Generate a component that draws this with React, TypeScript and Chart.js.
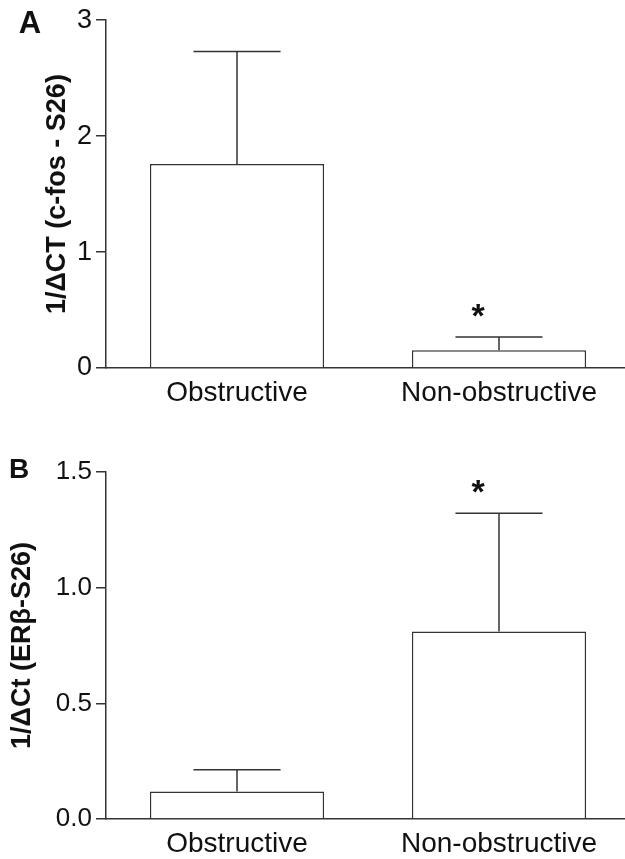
import React, { useEffect, useRef } from "react";
import { Chart, registerables } from "chart.js";

Chart.register(...registerables);

const categories = ["Obstructive", "Non-obstructive"];

const cfosMeans = [1.76, 0.153];
const cfosErrors = [0.97, 0.114];
const cfosSignificant = [false, true];
const cfosTicks = [0, 1, 2, 3];

const erbMeans = [0.119, 0.811];
const erbErrors = [0.094, 0.511];
const erbSignificant = [false, true];
const erbTicks = [0, 0.5, 1.0, 1.5];

const FONT = "'Liberation Sans', Arial, Helvetica, sans-serif";
const LINE = "#333333";
const TEXT = "#111111";

type PanelProps = {
  letter: string;
  letterX: number;
  letterY: number;
  letterSize: number;
  means: number[];
  errors: number[];
  sig: boolean[];
  ticks: number[];
  decimals: number;
  title: string;
  titlePad: number;
  top: number;
  height: number;
  areaTop: number;
  xHeight: number;
  tickSize: number;
};

function Panel(p: PanelProps) {
  const ref = useRef<HTMLCanvasElement | null>(null);
  useEffect(() => {
    if (!ref.current) return;
    const overlay = {
      id: "overlay" + p.letter,
      afterDatasetsDraw(chart: any) {
        const ctx = chart.ctx;
        const meta = chart.getDatasetMeta(0);
        const y = chart.scales.y;
        ctx.save();
        ctx.strokeStyle = LINE;
        ctx.lineWidth = 1.5;
        meta.data.forEach((el: any, i: number) => {
          const top = y.getPixelForValue(p.means[i] + p.errors[i]);
          const cap = el.width * 0.5;
          ctx.beginPath();
          ctx.moveTo(el.x, el.y);
          ctx.lineTo(el.x, top);
          ctx.moveTo(el.x - cap / 2, top);
          ctx.lineTo(el.x + cap / 2, top);
          ctx.stroke();
          if (p.sig[i]) {
            ctx.fillStyle = TEXT;
            ctx.font = `bold 34px ${FONT}`;
            ctx.textAlign = "center";
            ctx.textBaseline = "alphabetic";
            ctx.fillText("*", el.x - 21, top - 29 + 19);
          }
        });
        ctx.fillStyle = TEXT;
        ctx.font = `bold ${p.letterSize}px ${FONT}`;
        ctx.textAlign = "center";
        ctx.textBaseline = "alphabetic";
        ctx.fillText(p.letter, p.letterX, p.letterY);
        ctx.restore();
      },
    };
    const chart = new Chart(ref.current, {
      type: "bar",
      data: {
        labels: categories,
        datasets: [
          {
            data: p.means,
            backgroundColor: "#ffffff",
            borderColor: LINE,
            borderWidth: 1.5,
            borderSkipped: "start",
            barPercentage: 0.665,
            categoryPercentage: 1,
          },
        ],
      },
      options: {
        responsive: false,
        animation: false,
        events: [],
        layout: { padding: { top: p.areaTop, left: 0, right: 10, bottom: 0 } },
        plugins: { legend: { display: false }, tooltip: { enabled: false } },
        scales: {
          x: {
            grid: { display: false, drawTicks: false },
            border: { display: true, color: LINE, width: 1.5 },
            ticks: { font: { family: FONT, size: 28 }, color: TEXT, padding: 8, maxRotation: 0 },
            afterFit: (s: any) => {
              s.height = p.xHeight;
            },
          },
          y: {
            min: p.ticks[0],
            max: p.ticks[p.ticks.length - 1],
            afterBuildTicks: (s: any) => {
              s.ticks = p.ticks.map((v) => ({ value: v }));
            },
            grid: {
              display: true,
              drawOnChartArea: false,
              drawTicks: true,
              tickLength: 10,
              color: LINE,
              lineWidth: 1.5,
            },
            border: { display: true, color: LINE, width: 1.5 },
            ticks: {
              font: { family: FONT, size: p.tickSize },
              color: TEXT,
              padding: 4,
              callback: (v: any) => Number(v).toFixed(p.decimals),
            },
            title: {
              display: true,
              text: p.title,
              color: TEXT,
              font: { family: FONT, size: 27, weight: "bold" },
              padding: { top: p.titlePad, bottom: 0 },
            },
            afterFit: (s: any) => {
              s.width = 106;
            },
          },
        },
      },
      plugins: [overlay],
    } as any);
    return () => chart.destroy();
  }, []);
  return (
    <canvas
      ref={ref}
      width={640}
      height={p.height}
      style={{ position: "absolute", left: 0, top: p.top, width: 640, height: p.height }}
    />
  );
}

export default function App() {
  return (
    <div
      style={{
        position: "absolute",
        left: 0,
        top: 0,
        width: 625,
        height: 859,
        overflow: "hidden",
        background: "#ffffff",
      }}
    >
      <Panel
        letter="A"
        letterX={30}
        letterY={33}
        letterSize={31}
        means={cfosMeans}
        errors={cfosErrors}
        sig={cfosSignificant}
        ticks={cfosTicks}
        decimals={0}
        title="1/ΔCT (c-fos - S26)"
        titlePad={41}
        top={0}
        height={430}
        areaTop={20}
        xHeight={62}
        tickSize={27}
      />
      <Panel
        letter="B"
        letterX={19}
        letterY={48}
        letterSize={28}
        means={erbMeans}
        errors={erbErrors}
        sig={erbSignificant}
        ticks={erbTicks}
        decimals={1}
        title="1/ΔCt (ERβ-S26)"
        titlePad={6}
        top={430}
        height={429}
        areaTop={42}
        xHeight={40}
        tickSize={26}
      />
    </div>
  );
}
